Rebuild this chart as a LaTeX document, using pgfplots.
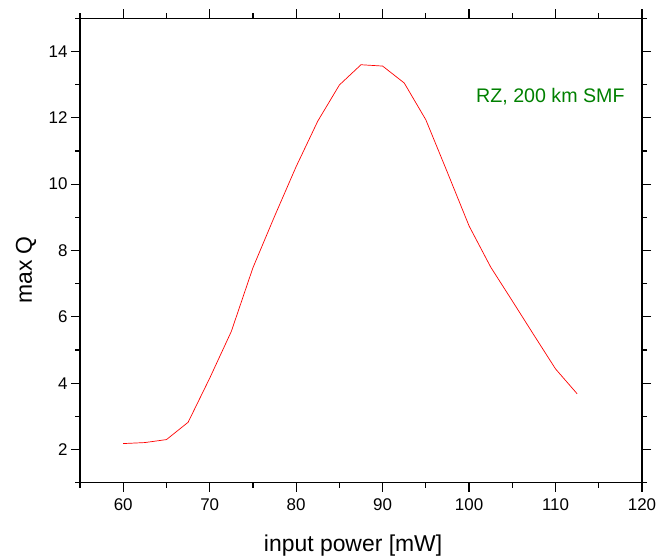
\documentclass[border=0pt]{standalone}
\usepackage{fontspec}
\setmainfont{Liberation Sans}
\usepackage{pgfplots}
\pgfplotsset{compat=1.18}
\usetikzlibrary{calc}
\definecolor{annot}{RGB}{0,128,0}
\begin{document}
\begin{tikzpicture}
\begin{axis}[
  scale only axis,
  width=562bp, height=464.4bp,
  xmin=55, xmax=120, ymin=1, ymax=15,
  xtick={60,70,80,90,100,110,120},
  minor xtick={55,65,75,85,95,105,115},
  ytick={2,4,6,8,10,12,14},
  minor ytick={1,3,5,7,9,11,13,15},
  tick align=outside,
  major tick length=9bp,
  minor tick length=5bp,
  tick style={black, line width=1.2bp},
  axis line style={black, line width=1.4bp},
  /pgf/number format/assume math mode=true,
  tick label style={font=\fontsize{17}{19}\selectfont},
  xticklabel style={yshift=-3bp},
  xlabel={input power [mW]},
  ylabel={max Q},
  label style={font=\fontsize{23}{25}\selectfont},
  xlabel style={at={(axis description cs:0.486,-0.136)}, anchor=center},
  ylabel style={at={(axis description cs:-0.096,0.458)}, anchor=center},
]
\addplot[red, line width=0.7bp] coordinates {
(60,2.18) (62.5,2.21) (65,2.30) (67.5,2.82) (70,4.15) (72.5,5.56)
(75,7.48) (77.5,9.03) (80,10.53) (82.5,11.90) (85,12.99) (87.5,13.60)
(90,13.56) (92.5,13.05) (95,11.94) (97.5,10.35) (100,8.74) (102.5,7.50)
(105,6.48) (107.5,5.45) (110,4.43) (112.5,3.68)
};
\node[anchor=west, text=annot, font=\fontsize{19.7}{21}\selectfont, inner sep=0pt] at (axis cs:100.8,12.64) {RZ, 200 km SMF};
\end{axis}
\pgfresetboundingbox
\useasboundingbox ($(current axis.south west)+(-80bp,-73.3bp)$) rectangle ($(current axis.north east)+(15bp,18.3bp)$);
\end{tikzpicture}
\end{document}
